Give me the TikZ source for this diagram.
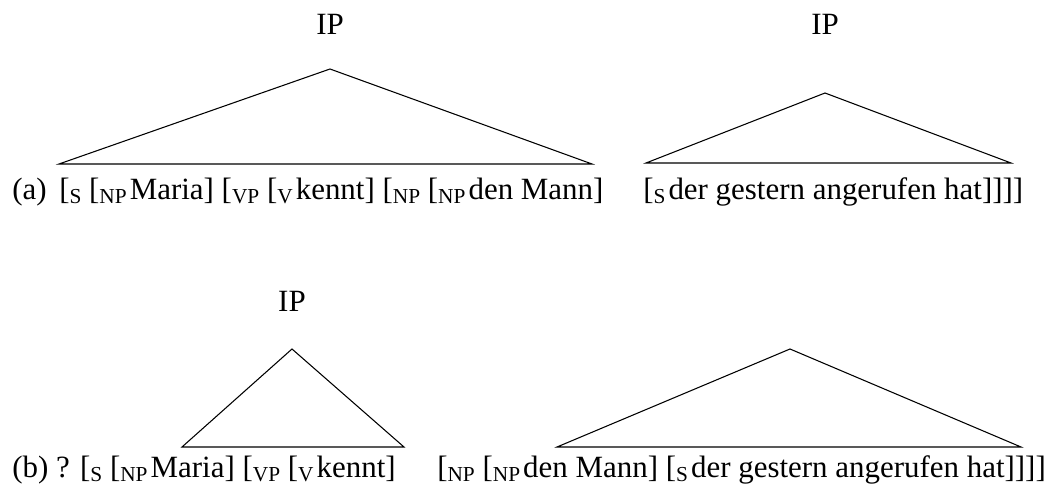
\documentclass[tikz,border=0pt]{standalone}
\usepackage{fontspec}
\setmainfont{Liberation Serif}
\newcommand{\sbs}[1]{\raisebox{-0.1em}{\fontsize{16}{16}\selectfont #1}}
\newcommand{\sbw}[1]{\sbs{#1}\kern0.1em}
\begin{document}
\begin{tikzpicture}[x=0.75pt,y=-0.75pt,
  txt/.style={inner sep=0pt,font=\fontsize{23.2}{27}\selectfont},
  tri/.style={draw=black,line width=0.8pt,line join=miter}]
\useasboundingbox (0,0) rectangle (1058,484);
% labels
\node[txt,anchor=base] (ip1) at (330,35) {IP};
\node[txt,anchor=base] (ip2) at (825,35) {IP};
\node[txt,anchor=base] (ip3) at (292,312) {IP};
% triangles (a)
\coordinate (t1a) at (330,69);
\coordinate (t1l) at (59,164);
\coordinate (t1r) at (592,164);
\coordinate (t2a) at (825,93);
\coordinate (t2l) at (646,163);
\coordinate (t2r) at (1011,163);
\draw[tri] (t1a) -- (t1l) -- (t1r) -- cycle;
\draw[tri] (t2a) -- (t2l) -- (t2r) -- cycle;
% triangles (b)
\coordinate (t3a) at (292,349);
\coordinate (t3l) at (182,447);
\coordinate (t3r) at (404,447);
\coordinate (t4a) at (790,349);
\coordinate (t4l) at (557,447);
\coordinate (t4r) at (1021,447);
\draw[tri] (t3a) -- (t3l) -- (t3r) -- cycle;
\draw[tri] (t4a) -- (t4l) -- (t4r) -- cycle;
% line (a)
\node[txt,anchor=base west] (la) at (12,200) {(a)};
\node[txt,anchor=base west] (a1) at (59,200) {[\sbs{S} [\sbw{NP}Maria] [\sbs{VP} [\sbw{V}kennt] [\sbs{NP} [\sbw{NP}den Mann]};
\node[txt,anchor=base west] (a2) at (643,200) {[\sbw{S}der gestern angerufen hat]]]]};
% line (b)
\node[txt,anchor=base west] (b1) at (12,478) {(b) ? [\sbs{S} [\sbw{NP}Maria] [\sbs{VP} [\sbw{V}kennt]};
\node[txt,anchor=base west] (b2) at (437,478) {[\sbs{NP} [\sbw{NP}den Mann] [\sbw{S}der gestern angerufen hat]]]]};
\end{tikzpicture}
\end{document}
